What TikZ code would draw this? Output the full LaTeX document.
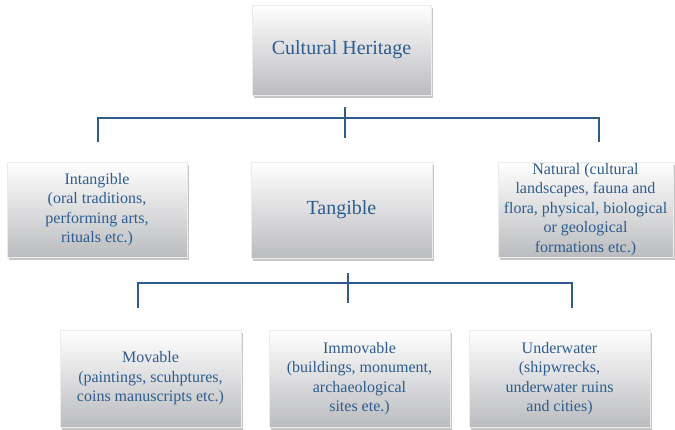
\documentclass[tikz,border=0pt]{standalone}
\usepackage{fontspec}
\setmainfont{Liberation Serif}
\usetikzlibrary{shadows}

\definecolor{heritageblue}{HTML}{2E5C8E}
\definecolor{boxgray}{HTML}{BBBCBF}

\tikzset{
  herbox/.style={rectangle, draw=white!85!gray, line width=0.4pt,
    top color=white, bottom color=boxgray,
    drop shadow={shadow xshift=2pt, shadow yshift=-2.5pt, opacity=0.45},
    minimum width=181pt, minimum height=96pt, inner sep=1pt,
    align=center, text=heritageblue, font=\fontsize{16}{19.5}\selectfont},
  bigtext/.style={font=\fontsize{20}{24}\selectfont},
  bus/.style={draw=heritageblue, line width=1.8pt}
}

\begin{document}
\begin{tikzpicture}[x=1pt, y=-1pt]
    \useasboundingbox (0,0) rectangle (675,429);

    % top level
    \node[herbox, bigtext, minimum width=179pt, minimum height=90pt] (heritage) at (341.5,50) {Cultural Heritage};

    % second level
    \node[herbox, minimum width=180pt, minimum height=95pt] (intangible) at (97,209.5)
        {Intangible\\(oral traditions,\\performing arts,\\rituals etc.)};
    \node[herbox, bigtext] (tangible) at (341.5,210) {Tangible};
    \node[herbox, minimum width=175pt, minimum height=95pt, inner sep=0pt] (natural) at (585.5,209.5)
        {Natural (cultural\\landscapes, fauna and\\flora, physical, biological\\or geological\\formations etc.)};

    % third level
    \node[herbox, minimum height=97pt] (movable) at (150.5,378.5)
        {Movable\\(paintings, scuhptures,\\coins manuscripts etc.)};
    \node[herbox, minimum height=97pt] (immovable) at (359.5,378.5)
        {Immovable\\(buildings, monument,\\archaeological\\sites ete.)};
    \node[herbox, minimum height=97pt] (underwater) at (559.5,378.5)
        {Underwater\\(shipwrecks,\\underwater ruins\\and cities)};

    % bus coordinates
    \coordinate (heritage bus top) at (345,107);
    \coordinate (heritage bus low) at (345,138);
    \coordinate (intangible bus) at (97.7,142);
    \coordinate (natural bus) at (599,142);
    \coordinate (tangible bus top) at (348,273);
    \coordinate (tangible bus low) at (348,303);
    \coordinate (movable bus) at (138,308);
    \coordinate (underwater bus) at (572,308);

    \draw[bus] (heritage bus top) -- (heritage bus low);
    \draw[bus] (intangible bus) |- (345,118) -| (natural bus);

    \draw[bus] (tangible bus top) -- (tangible bus low);
    \draw[bus] (movable bus) |- (348,283) -| (underwater bus);

\end{tikzpicture}
\end{document}
